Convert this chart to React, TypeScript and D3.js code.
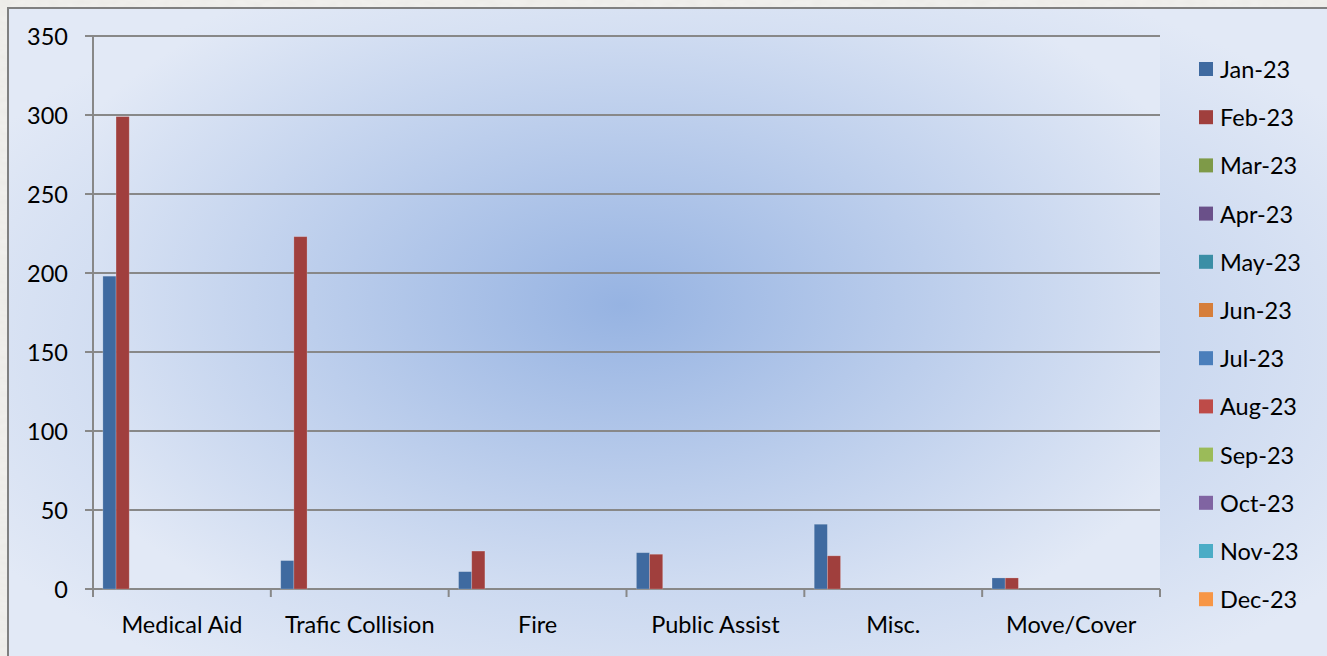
import React from "react";
import * as d3 from "d3";

const categories = ["Medical Aid", "Trafic Collision", "Fire", "Public Assist", "Misc.", "Move/Cover"];
const seriesNames = ["Jan-23", "Feb-23", "Mar-23", "Apr-23", "May-23", "Jun-23", "Jul-23", "Aug-23", "Sep-23", "Oct-23", "Nov-23", "Dec-23"];
const jan23 = [198, 18, 11, 23, 41, 7];
const feb23 = [299, 223, 24, 22, 21, 7];
const emptySeries: (number | null)[] = [null, null, null, null, null, null];
const seriesValues: (number | null)[][] = [jan23, feb23, ...Array.from({ length: 10 }, () => emptySeries)];
const seriesColors = ["#3F6AA0", "#A03F3D", "#7E9A48", "#6A5089", "#3B8EA6", "#D67E3A", "#4A7EBB", "#BE4B48", "#9BBB59", "#8064A2", "#4BACC6", "#F79646"];
const yTicks = [0, 50, 100, 150, 200, 250, 300, 350];

const W = 1327, H = 656;
const plot = { left: 93, right: 1160, top: 36, bottom: 589 };
const font = "Lato, 'Open Sans', sans-serif";
const fs = 23.5;

export default function App() {
  const y = d3.scaleLinear().domain([0, 350]).range([plot.bottom, plot.top]);
  const x0 = d3.scaleBand<string>().domain(categories).range([plot.left, plot.right]);
  const bw = x0.bandwidth();
  const barW = bw / 13.5;
  const x1 = d3.scaleBand<string>().domain(seriesNames).range([barW * 0.75, barW * 12.75]);

  return (
    <svg width={W} height={H} style={{ position: "absolute", left: 0, top: 0 }} fontFamily={font}>
      <defs>
        <filter id="marble" x="0" y="0" width="100%" height="100%">
          <feTurbulence type="fractalNoise" baseFrequency="0.08 0.2" numOctaves="3" seed="4" />
          <feColorMatrix type="matrix" values="0 0 0 0 0.84  0 0 0 0 0.83  0 0 0 0 0.80  0 0 0 -1.6 1.2" />
        </filter>
        <radialGradient id="chartBg" cx="0.5" cy="0.5" r="0.6">
          <stop offset="0" stopColor="#a7bfe6" />
          <stop offset="1" stopColor="#e2e9f6" />
        </radialGradient>
        <radialGradient id="plotBg" gradientUnits="userSpaceOnUse" cx={622} cy={305} r={620} gradientTransform="translate(622 305) scale(1 0.6) translate(-622 -305)">
          <stop offset="0" stopColor="#96b3e2" />
          <stop offset="1" stopColor="#e2e9f6" />
        </radialGradient>
      </defs>
      <rect x={0} y={0} width={W} height={H} fill="#f0efec" />
      <rect x={0} y={0} width={W} height={H} fill="#f0efec" filter="url(#marble)" />
      <rect x={8} y={8} width={W + 20} height={H + 20} fill="url(#chartBg)" stroke="#808080" strokeWidth={2} />
      <rect x={plot.left} y={plot.top} width={plot.right - plot.left} height={plot.bottom - plot.top} fill="url(#plotBg)" />

      {yTicks.map((t) => (
        <g key={t}>
          <line x1={plot.left - 8} x2={plot.right} y1={y(t)} y2={y(t)} stroke="#888" strokeWidth={2} />
          <text x={68} y={y(t)} textAnchor="end" dominantBaseline="central" fontSize={fs} fill="#000">{t}</text>
        </g>
      ))}
      <line x1={plot.left} x2={plot.left} y1={plot.top} y2={plot.bottom + 8} stroke="#888" strokeWidth={2} />
      {categories.map((c, i) => (
        <line key={"t" + i} x1={x0(c)! + bw} x2={x0(c)! + bw} y1={plot.bottom} y2={plot.bottom + 8} stroke="#888" strokeWidth={2} />
      ))}

      {categories.map((c, ci) => (
        <g key={c}>
          {seriesNames.map((s, si) => {
            const v = seriesValues[si][ci];
            if (v == null) return null;
            return (
              <rect key={s} x={x0(c)! + x1(s)!} y={y(v)} width={x1.bandwidth()} height={y(0) - y(v)}
                fill={seriesColors[si]} stroke="#ffffff" strokeOpacity={0.25} strokeWidth={0.8} />
            );
          })}
          <text x={x0(c)! + bw / 2} y={624} textAnchor="middle" dominantBaseline="central" fontSize={fs} fill="#000">{c}</text>
        </g>
      ))}

      {seriesNames.map((s, i) => (
        <g key={s} transform={`translate(1199, ${69 + i * 48.2})`}>
          <rect x={0} y={-7} width={14} height={14} fill={seriesColors[i]} />
          <text x={21} y={0} dominantBaseline="central" fontSize={fs} fill="#000">{s}</text>
        </g>
      ))}
    </svg>
  );
}
